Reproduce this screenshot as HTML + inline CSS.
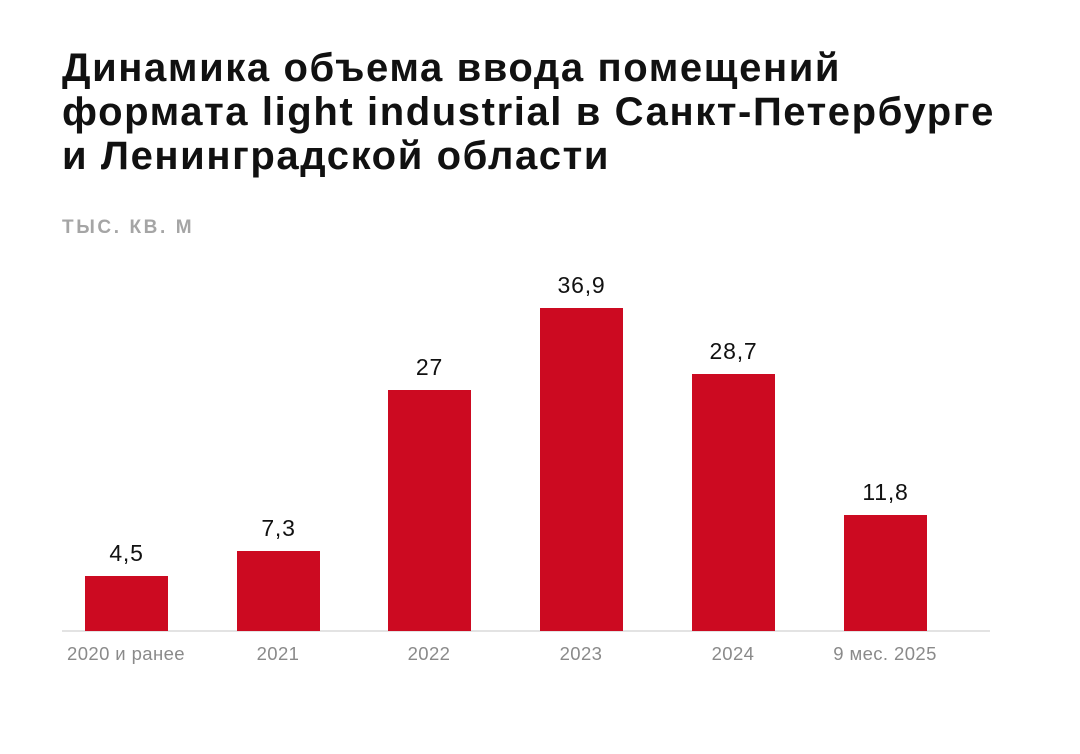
<!DOCTYPE html>
<html><head><meta charset="utf-8"><style>
body{margin:0;width:1080px;height:754px;background:#fff;font-family:"Liberation Sans",sans-serif;position:relative;overflow:hidden}
.t{position:absolute;left:62px;top:46px;font-size:40px;font-weight:bold;line-height:44px;color:#111;letter-spacing:1.6px;white-space:nowrap}
.u{position:absolute;left:62px;top:217px;font-size:19px;font-weight:bold;color:#a5a5a5;letter-spacing:2.6px}
.b{position:absolute;width:83px;background:#cc0a21;bottom:123px}
.v{position:absolute;width:123px;margin-left:-20px;text-align:center;font-size:23px;color:#111;letter-spacing:0.8px}
.c{position:absolute;width:160px;text-align:center;font-size:18.5px;color:#8a8a8a;top:643px;letter-spacing:0.4px}
.ax{position:absolute;left:62px;top:630px;width:928px;height:2px;background:#e3e3e3}
</style></head><body>
<div class="t">Динамика объема ввода помещений<br>формата light industrial в Санкт-Петербурге<br>и Ленинградской области</div>
<div class="u">ТЫС. КВ. М</div>
<div class="ax"></div>
<div class="b" style="left:85px;top:576px"></div><div class="v" style="left:85px;top:540px">4,5</div>
<div class="b" style="left:237px;top:551px"></div><div class="v" style="left:237px;top:515px">7,3</div>
<div class="b" style="left:388px;top:390px"></div><div class="v" style="left:388px;top:354px">27</div>
<div class="b" style="left:540px;top:308px"></div><div class="v" style="left:540px;top:272px">36,9</div>
<div class="b" style="left:692px;top:374px"></div><div class="v" style="left:692px;top:338px">28,7</div>
<div class="b" style="left:844px;top:515px"></div><div class="v" style="left:844px;top:479px">11,8</div>
<div class="c" style="left:46px">2020 и ранее</div>
<div class="c" style="left:198px">2021</div>
<div class="c" style="left:349px">2022</div>
<div class="c" style="left:501px">2023</div>
<div class="c" style="left:653px">2024</div>
<div class="c" style="left:805px">9 мес. 2025</div>
</body></html>
